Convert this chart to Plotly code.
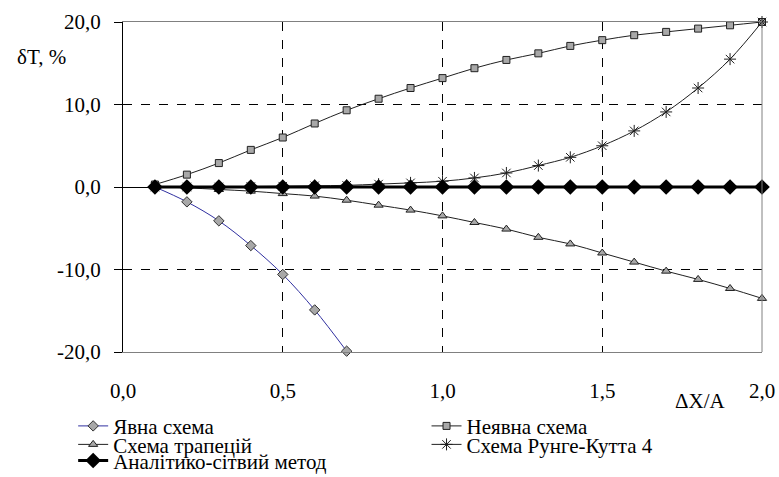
import plotly.graph_objects as go

x_vals = [0.1, 0.2, 0.3, 0.4, 0.5, 0.6, 0.7, 0.8, 0.9, 1.0,
          1.1, 1.2, 1.3, 1.4, 1.5, 1.6, 1.7, 1.8, 1.9, 2.0]

explicit_x = [0.1, 0.2, 0.3, 0.4, 0.5, 0.6, 0.7]
explicit_y = [0.0, -1.8, -4.1, -7.1, -10.6, -14.9, -19.9]

implicit_y = [0.3, 1.5, 2.9, 4.5, 6.0, 7.7, 9.3, 10.7, 12.0, 13.2,
              14.4, 15.4, 16.2, 17.1, 17.8, 18.4, 18.8, 19.2, 19.6, 20.0]

trapez_y = [0.0, -0.1, -0.3, -0.5, -0.8, -1.1, -1.6, -2.2, -2.8, -3.5,
            -4.3, -5.1, -6.1, -6.9, -8.0, -9.1, -10.2, -11.2, -12.3, -13.5]

rk4_y = [0.0, 0.0, 0.0, 0.05, 0.1, 0.15, 0.2, 0.35, 0.5, 0.7,
         1.1, 1.7, 2.6, 3.6, 5.0, 6.8, 9.1, 12.0, 15.5, 20.0]

analytic_y = [0.0] * 20

y_ticks = [-20, -10, 0, 10, 20]
y_ticktext = ["-20,0", "-10,0", "0,0", "10,0", "20,0"]
x_ticks = [0.0, 0.5, 1.0, 1.5, 2.0]
x_ticktext = ["0,0", "0,5", "1,0", "1,5", "2,0"]

names = ["Явна схема", "Неявна схема", "Схема трапецій",
         "Схема Рунге-Кутта 4", "Аналітико-сітвий метод"]

FONT = "Liberation Serif"
FS = 21
grey_fill = "#a8a8a8"

fig = go.Figure()
fig.add_trace(go.Scatter(
    x=explicit_x, y=explicit_y, name=names[0], mode="lines+markers",
    line=dict(color="#3030a0", width=1, shape="spline"),
    marker=dict(symbol="diamond", size=8, color=grey_fill, line=dict(color="#303030", width=1)),
    legend="legend", cliponaxis=False))
fig.add_trace(go.Scatter(
    x=x_vals, y=implicit_y, name=names[1], mode="lines+markers",
    line=dict(color="#202020", width=1, shape="spline"),
    marker=dict(symbol="square", size=7, color=grey_fill, line=dict(color="#202020", width=1)),
    legend="legend2", cliponaxis=False))
fig.add_trace(go.Scatter(
    x=x_vals, y=trapez_y, name=names[2], mode="lines+markers",
    line=dict(color="#202020", width=1, shape="spline"),
    marker=dict(symbol="triangle-up", size=8, color=grey_fill, line=dict(color="#202020", width=1)),
    legend="legend3", cliponaxis=False))
fig.add_trace(go.Scatter(
    x=x_vals, y=rk4_y, name=names[3], mode="lines+markers",
    line=dict(color="#202020", width=1, shape="spline"),
    marker=dict(symbol="asterisk-open", size=10, color="#202020", line=dict(color="#202020", width=1)),
    legend="legend4", cliponaxis=False))
fig.add_trace(go.Scatter(
    x=x_vals, y=analytic_y, name=names[4], mode="lines+markers",
    line=dict(color="black", width=3),
    marker=dict(symbol="diamond", size=12, color="black"),
    legend="legend5", cliponaxis=False))

def leg(x, y):
    return dict(x=x, y=y, xanchor="left", yanchor="middle", bgcolor="rgba(0,0,0,0)",
                font=dict(family=FONT, size=FS, color="black"), borderwidth=0)

c1, c2 = -0.078, 0.475
r1, r2, r3 = -0.225, -0.281, -0.330

fig.update_layout(
    width=779, height=477,
    margin=dict(l=123, r=17, t=22, b=125, autoexpand=False),
    paper_bgcolor="white", plot_bgcolor="white",
    font=dict(family=FONT, size=FS, color="black"),
    showlegend=True,
    legend=leg(c1, r1), legend2=leg(c2, r1), legend3=leg(c1, r2),
    legend4=leg(c2, r2), legend5=leg(c1, r3),
    xaxis=dict(range=[0, 2], tickvals=x_ticks, ticktext=x_ticktext,
               showgrid=True, gridcolor="black", griddash="dash", gridwidth=1,
               showline=True, linecolor="#808080", linewidth=1, mirror=True,
               zeroline=False, ticks="", ticklabelstandoff=20),
    yaxis=dict(range=[-20, 20], tickvals=y_ticks, ticktext=y_ticktext,
               showgrid=True, gridcolor="black", griddash="dash", gridwidth=1,
               showline=True, linecolor="black", linewidth=1,
               zeroline=True, zerolinecolor="black", zerolinewidth=1,
               ticks="outside", ticklen=8, tickcolor="black", ticklabelstandoff=9),
    shapes=[dict(type="line", xref="paper", yref="paper", x0=1, x1=1, y0=0, y1=1,
                 line=dict(color="#808080", width=1))],
    annotations=[
        dict(text="ΔX/A", xref="paper", yref="paper", x=0.903, y=-0.148,
             showarrow=False, xanchor="center", yanchor="middle",
             font=dict(family=FONT, size=FS)),
        dict(text="δT, %", xref="paper", yref="paper", x=-0.128, y=0.894,
             showarrow=False, xanchor="center", yanchor="middle",
             font=dict(family=FONT, size=FS)),
    ],
)

fig.write_html("out.html", post_script="document.body.style.margin='0';",
               config={"displayModeBar": False})
